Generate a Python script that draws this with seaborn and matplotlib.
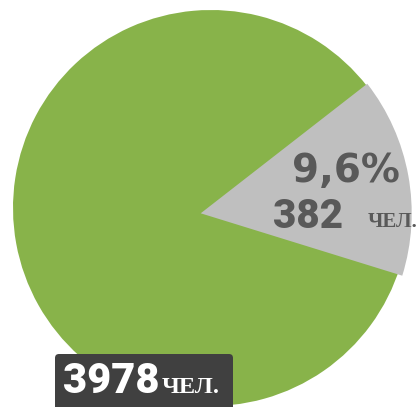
import matplotlib
matplotlib.use("Agg")
import matplotlib.pyplot as plt
from matplotlib.patches import FancyBboxPatch
import seaborn as sns

# ---- data ----
categories = ["Остальные", "Группа"]
people = [3978, 382]
share_label = "9,6%"
unit_label = "ЧЕЛ."
# slice sizes as drawn in the picture (percent of the circle)
drawn_share_pct = [15.3, 84.7]   # order: gray slice, green slice
slice_colors = ["#BFBFBF", "#88B34A"]

sns.set_style("white")
plt.rcParams["font.family"] = ["DejaVu Sans"]

fig = plt.figure(figsize=(4.2, 4.07), dpi=100)
ax = fig.add_axes([0, 0, 1, 1])

H = 407
green_center = (211, H - 208)
gray_center = (200.7, H - 213.3)

wedges, _ = ax.pie(drawn_share_pct, colors=slice_colors, startangle=-17.2,
                   counterclock=True, radius=198, center=green_center,
                   wedgeprops=dict(linewidth=0))
gray, green = wedges
green.set_zorder(1)
gray.set_zorder(2)
gray.set_center(gray_center)
gray.set_radius(211)

ax.set_xlim(0, 420)
ax.set_ylim(0, H)
ax.set_aspect("auto")
ax.axis("off")

num_font = dict(family=["Roboto", "DejaVu Sans"], fontweight=900)
dark = "#595959"
ax.text(291.7, H - 182, share_label, fontsize=28, color=dark,
        ha="left", va="baseline", zorder=5, family="DejaVu Sans",
        fontweight="heavy")
ax.text(272.7, H - 228, f"{people[1]}", fontsize=29, color=dark,
        ha="left", va="baseline", zorder=5, **num_font)
ax.text(367.7, H - 226.7, unit_label, fontsize=15, fontweight="bold",
        family="Liberation Serif", color=dark, ha="left", va="baseline", zorder=5)

box = FancyBboxPatch((55, -10), 178, H - 354 + 10,
                     boxstyle="round,pad=0,rounding_size=4",
                     facecolor="#404040", edgecolor="none", zorder=4)
ax.add_patch(box)
ax.text(62.7, H - 393.3, f"{people[0]}", fontsize=30, color="white",
        ha="left", va="baseline", zorder=5, **num_font)
ax.text(162, H - 393.3, unit_label, fontsize=17.5, fontweight="bold",
        family="Liberation Serif", color="white", ha="left", va="baseline", zorder=5)

fig.savefig("out.png", dpi=100, facecolor="white")
